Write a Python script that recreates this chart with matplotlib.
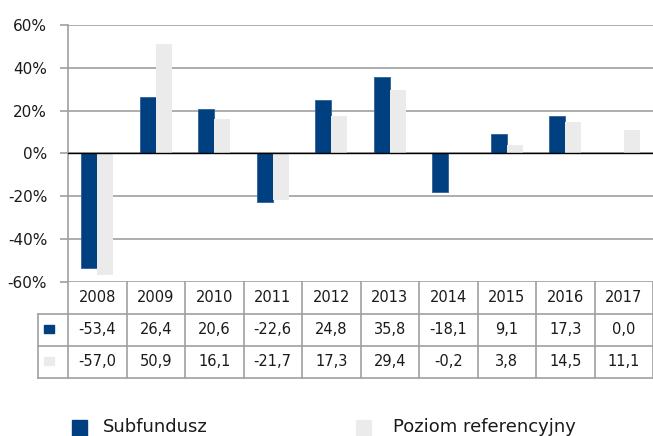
import matplotlib
matplotlib.use('Agg')
import matplotlib.pyplot as plt
from matplotlib.patches import Rectangle

matplotlib.rcParams['font.family'] = 'DejaVu Sans'

# dane
years = ['2008', '2009', '2010', '2011', '2012', '2013', '2014', '2015', '2016', '2017']
subfundusz = [-53.4, 26.4, 20.6, -22.6, 24.8, 35.8, -18.1, 9.1, 17.3, 0.0]
poziom_ref = [-57.0, 50.9, 16.1, -21.7, 17.3, 29.4, -0.2, 3.8, 14.5, 11.1]
series_names = ['Subfundusz', 'Poziom referencyjny']
y_ticks = [-60, -40, -20, 0, 20, 40, 60]

dark = '#004080'
light = '#ebebeb'
grid_c = '#a0a0a0'
text_c = '#1a1a1a'

W, H = 653, 436
fig = plt.figure(figsize=(W / 100, H / 100), dpi=100)

# wykres
ax_l, ax_r, ax_t, ax_b = 68, 653, 25, 281.7
ax = fig.add_axes([ax_l / W, (H - ax_b) / H, (ax_r - ax_l) / W, (ax_b - ax_t) / H])
x = list(range(len(years)))
bw = 0.275
ax.bar([i - bw / 2 for i in x], subfundusz, bw, color=dark, edgecolor='#2f6099', linewidth=0.6, zorder=3)
ax.bar([i + bw / 2 for i in x], poziom_ref, bw, color=light, linewidth=0, zorder=3)
ax.set_xlim(-0.5, len(years) - 0.5)
ax.set_ylim(-60, 60)
ax.set_yticks(y_ticks)
ax.set_yticklabels([f'{t}%' for t in y_ticks], fontsize=11, color=text_c)
ax.set_xticks([])
for t in y_ticks:
    ax.axhline(t, color=grid_c, linewidth=1.2, zorder=1)
ax.axhline(0, color='black', linewidth=1.0, zorder=4)
for s in ['top', 'right', 'bottom']:
    ax.spines[s].set_visible(False)
ax.spines['left'].set_color(grid_c)
ax.spines['left'].set_linewidth(1.2)
ax.tick_params(axis='y', length=6, width=1.2, color=grid_c, pad=9)

# tabela
tb_l, tb_t, tb_b = 38, 281.7, 377.7
tax = fig.add_axes([tb_l / W, (H - tb_b) / H, (ax_r - tb_l) / W, (tb_b - tb_t) / H])
lab_w = (ax_l - tb_l) / ((ax_r - ax_l) / len(years))
tax.set_xlim(-0.5 - lab_w, len(years) - 0.5)
tax.set_ylim(3, 0)
tax.axis('off')
lk = dict(color=grid_c, linewidth=1.2, clip_on=False)
for r in [1, 2, 3]:
    tax.plot([-0.5 - lab_w, len(years) - 0.5], [r, r], **lk)
for k in range(len(years) + 1):
    tax.plot([k - 0.5, k - 0.5], [0, 3], **lk)
tax.plot([-0.5 - lab_w, -0.5 - lab_w], [1, 3], **lk)

def fmt(v):
    return f'{v:.1f}'.replace('.', ',')

for i, yr in enumerate(years):
    tax.text(i, 0.5, yr, ha='center', va='center', fontsize=10.5, color=text_c)
    tax.text(i, 1.5, fmt(subfundusz[i]), ha='center', va='center', fontsize=10.5, color=text_c)
    tax.text(i, 2.5, fmt(poziom_ref[i]), ha='center', va='center', fontsize=10.5, color=text_c)
for r, c in [(1.5, dark), (2.5, light)]:
    tax.add_patch(Rectangle((-0.5 - lab_w * 0.8, r - 0.15), lab_w * 0.33, 0.25, color=c, clip_on=False))

# legenda
for (px, tx), name, c in zip([(72, 103), (356, 393)], series_names, [dark, light]):
    fig.add_artist(Rectangle((px / W, 0), 15 / W, 16 / H, color=c, transform=fig.transFigure))
    fig.text(tx / W, (H - 427) / H, name, fontsize=13, va='center', ha='left', color=text_c)

fig.savefig('out.png', dpi=100)
